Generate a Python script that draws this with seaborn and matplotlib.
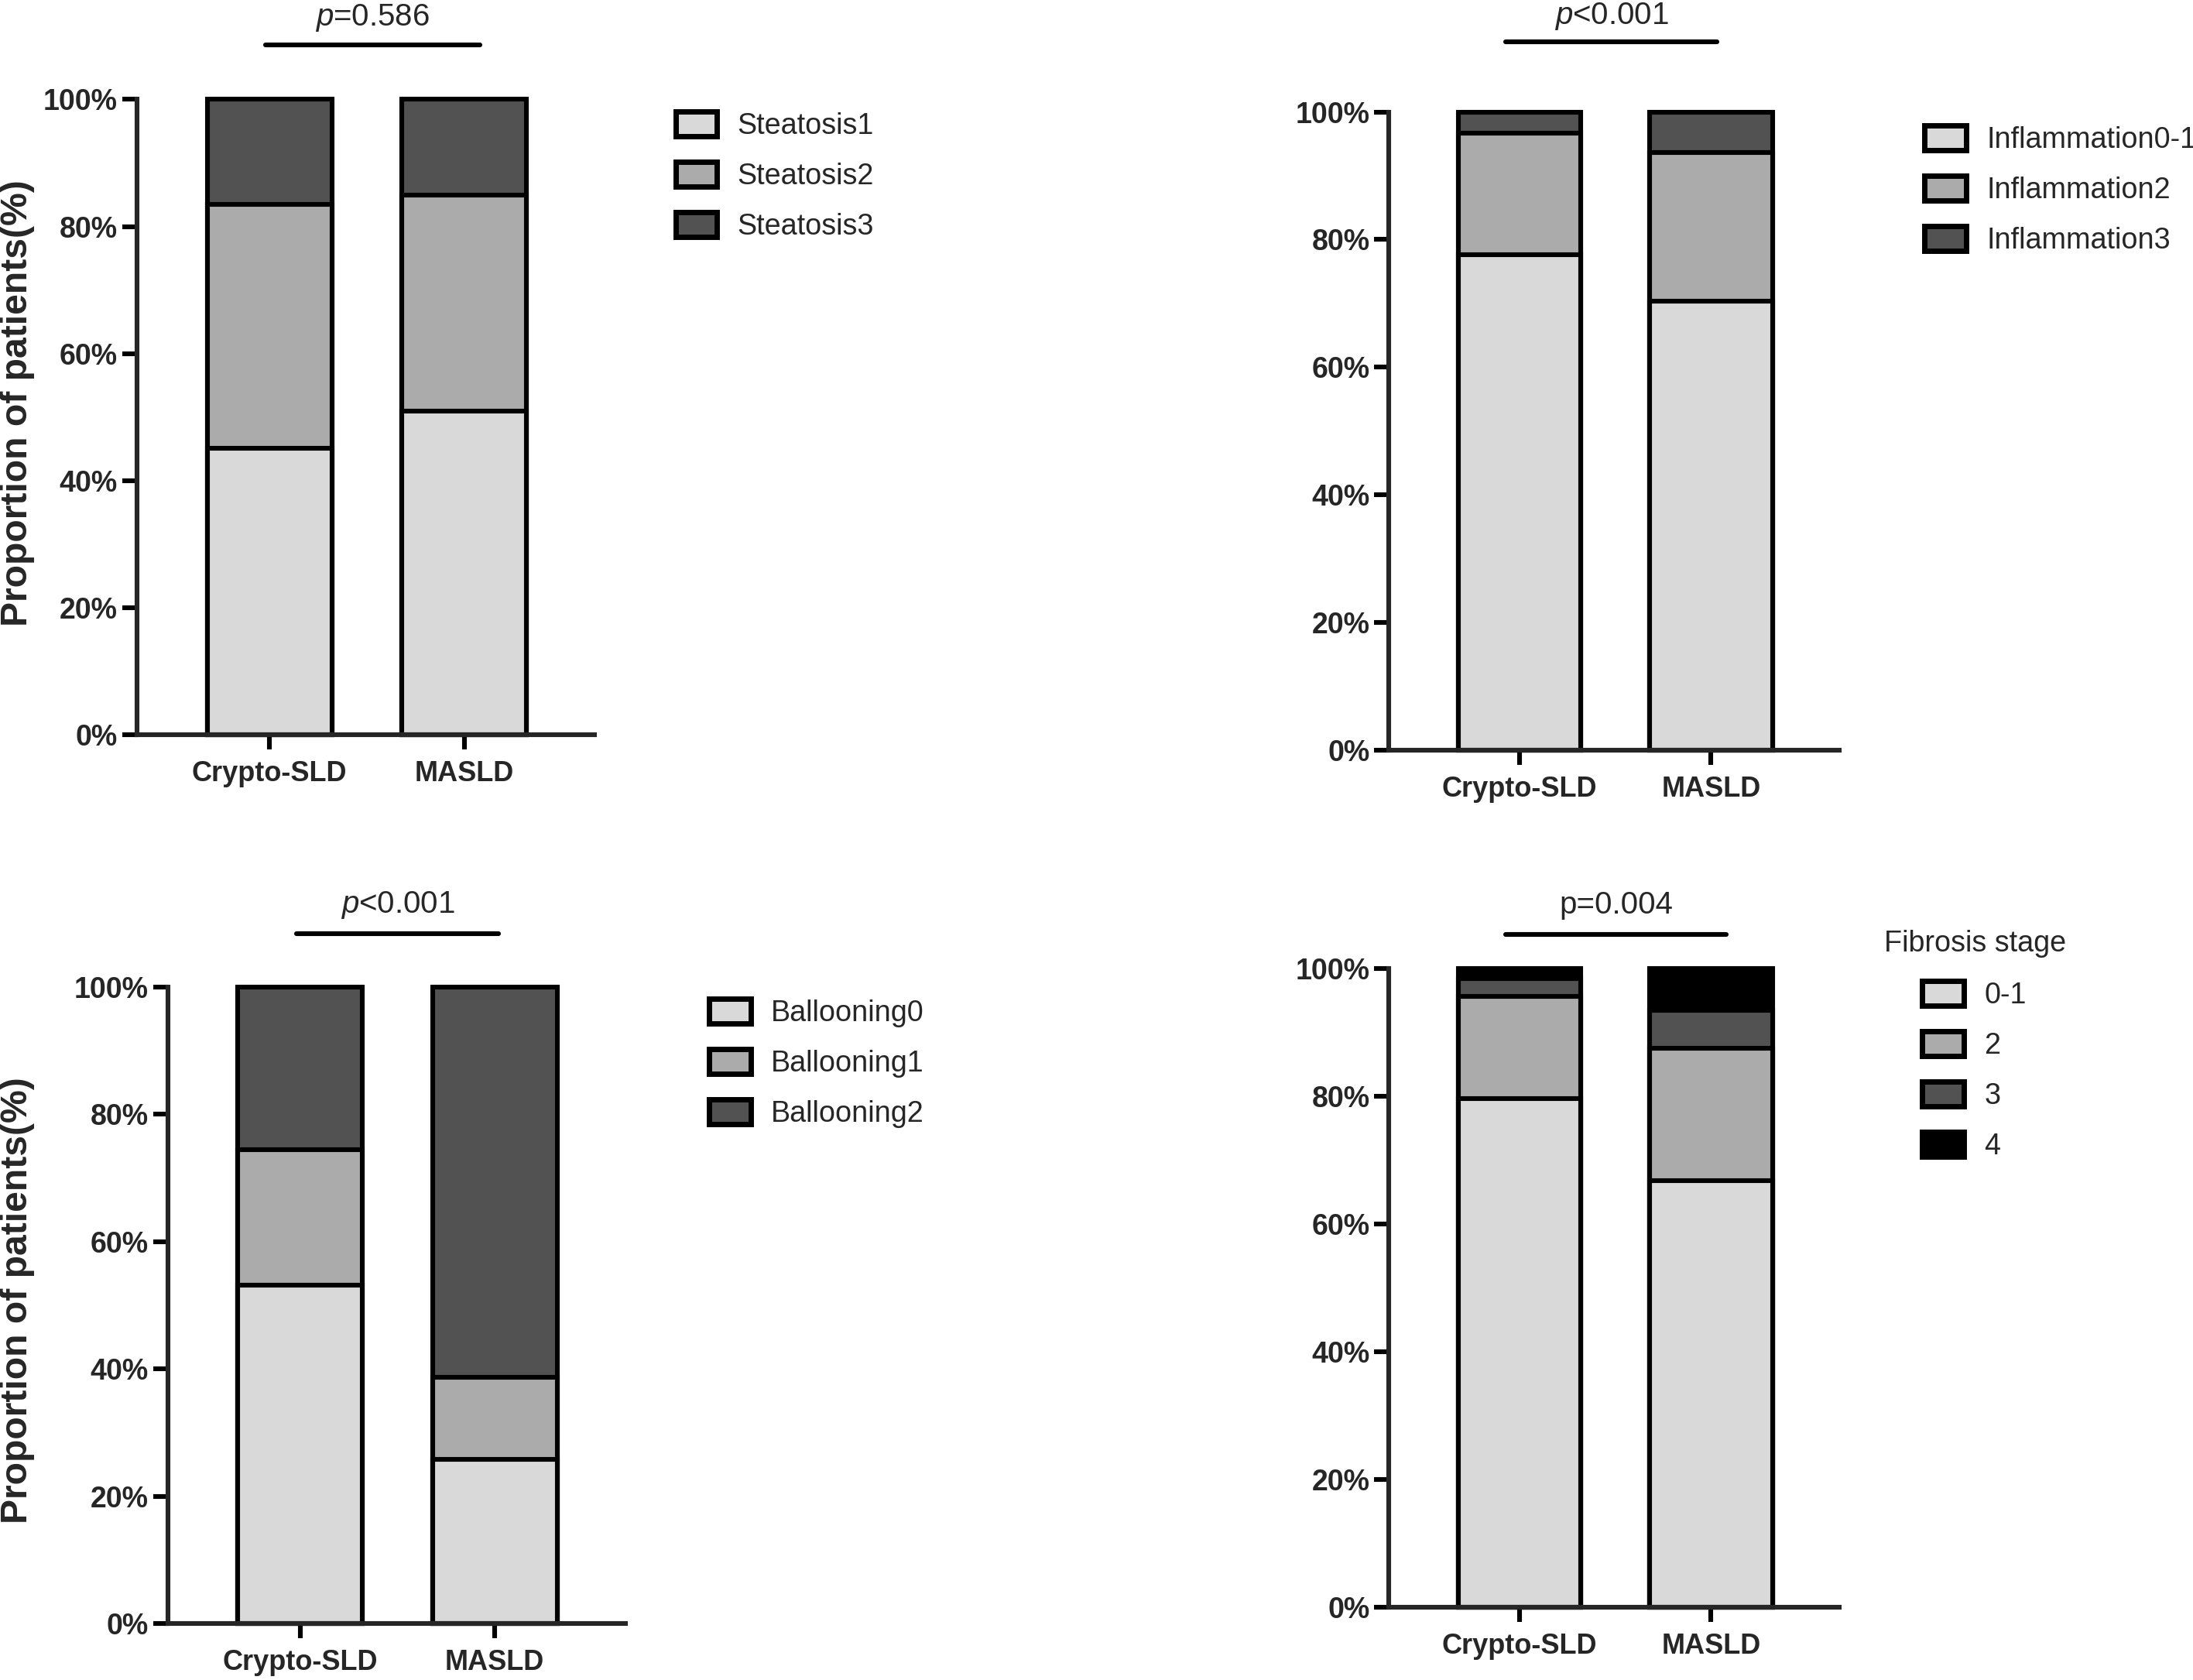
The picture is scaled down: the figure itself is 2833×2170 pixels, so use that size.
import matplotlib
matplotlib.use("Agg")
import matplotlib.pyplot as plt
from matplotlib.patches import Patch
import numpy as np
import seaborn as sns

# ---------------- data ----------------
groups = ["Crypto-SLD", "MASLD"]

steatosis_labels = ["Steatosis1", "Steatosis2", "Steatosis3"]
steatosis_crypto = [45.1, 38.4, 16.5]
steatosis_masld = [50.9, 34.1, 15.0]
steatosis_p = "=0.586"

inflam_labels = ["Inflammation0-1", "Inflammation2", "Inflammation3"]
inflam_crypto = [77.6, 19.1, 3.3]
inflam_masld = [70.4, 23.2, 6.4]
inflam_p = "<0.001"

balloon_labels = ["Ballooning0", "Ballooning1", "Ballooning2"]
balloon_crypto = [53.2, 21.2, 25.6]
balloon_masld = [25.8, 12.9, 61.3]
balloon_p = "<0.001"

fibrosis_labels = ["0-1", "2", "3", "4"]
fibrosis_crypto = [79.6, 16.0, 2.8, 1.6]
fibrosis_masld = [66.8, 20.7, 5.9, 6.6]
fibrosis_p = "p=0.004"
fibrosis_title = "Fibrosis stage"

ytick_vals = [0, 20, 40, 60, 80, 100]
ylabel_text = "Proportion of patients(%)"

colors3 = ["#d9d9d9", "#ababab", "#525252"]
colors4 = ["#d9d9d9", "#ababab", "#525252", "#000000"]

# ---------------- style ----------------
sns.set_style("ticks")
plt.rcParams["font.family"] = ["Liberation Sans", "DejaVu Sans"]
plt.rcParams["mathtext.fontset"] = "custom"
plt.rcParams["mathtext.rm"] = "Liberation Sans"
plt.rcParams["mathtext.it"] = "Liberation Sans:italic"

LW = 2.2
LEG_FS = 13.6
fig = plt.figure(figsize=(2833 / 200, 2170 / 200), dpi=200)


def stacked_panel(rect, crypto, masld, labels, colors):
    ax = fig.add_axes(rect)
    cum_c = np.cumsum(crypto)
    cum_m = np.cumsum(masld)
    for i in reversed(range(len(labels))):
        sns.barplot(x=groups, y=[cum_c[i], cum_m[i]], color=colors[i],
                    saturation=1, edgecolor="black", linewidth=LW,
                    width=0.64, errorbar=None, ax=ax)
    for p in ax.patches:
        p.set_clip_on(False)
    ax.set_xlim(-0.68, 1.67)
    ax.set_ylim(0, 100)
    ax.set_yticks(ytick_vals)
    ax.set_yticklabels([f"{v}%" for v in ytick_vals], fontsize=13.5,
                       fontweight="bold")
    ax.set_xticks([0, 1])
    ax.set_xticklabels(groups, fontsize=13, fontweight="bold")
    ax.set_xlabel("")
    ax.set_ylabel("")
    sns.despine(ax=ax)
    for s in ["left", "bottom"]:
        ax.spines[s].set_linewidth(LW)
    ax.tick_params(axis="both", length=7, width=LW, color="black")
    ax.tick_params(axis="y", pad=2)
    ax.tick_params(axis="x", pad=5)
    return ax


def sig_bar(ax, x0, x1, y_line, y_text, text):
    ax.plot([x0, x1], [y_line, y_line], color="black", lw=2.2,
            solid_capstyle="round", clip_on=False)
    ax.text((x0 + x1) / 2, y_text, text, ha="center", va="center",
            fontsize=14.5, clip_on=False)


def add_legend(ax, labels, colors, x, y):
    handles = [Patch(facecolor=c, edgecolor="black", linewidth=LW + 0.3)
               for c in colors]
    fig.legend(handles, labels, loc="upper left", bbox_to_anchor=(x, y),
               bbox_transform=fig.transFigure, frameon=False, fontsize=LEG_FS,
               handlelength=1.42, handleheight=0.92, handletextpad=0.70,
               labelspacing=0.74, borderpad=0, borderaxespad=0)


# Panel 1: steatosis
ax1 = stacked_panel([0.0625, 0.5627, 0.2086, 0.3781],
                    steatosis_crypto, steatosis_masld, steatosis_labels, colors3)
sig_bar(ax1, -0.02, 1.08, 108.6, 112.9, r"$\mathit{p}$" + steatosis_p)
ax1.set_ylabel(ylabel_text, fontsize=17.3, fontweight="bold")
ax1.yaxis.set_label_coords(-0.223, 0.5225)
add_legend(ax1, steatosis_labels, colors3, 0.308, 0.9336)

# Panel 2: inflammation
ax2 = stacked_panel([0.6334, 0.5534, 0.2054, 0.3800],
                    inflam_crypto, inflam_masld, inflam_labels, colors3)
sig_bar(ax2, -0.07, 1.03, 111.0, 115.0, r"$\mathit{p}$" + inflam_p)
add_legend(ax2, inflam_labels, colors3, 0.8776, 0.9253)

# Panel 3: ballooning
ax3 = stacked_panel([0.0765, 0.0336, 0.2086, 0.3790],
                    balloon_crypto, balloon_masld, balloon_labels, colors3)
sig_bar(ax3, -0.02, 1.02, 108.4, 112.8, r"$\mathit{p}$" + balloon_p)
ax3.set_ylabel(ylabel_text, fontsize=17.3, fontweight="bold")
ax3.yaxis.set_label_coords(-0.291, 0.507)
add_legend(ax3, balloon_labels, colors3, 0.3234, 0.4055)

# Panel 4: fibrosis
ax4 = stacked_panel([0.6334, 0.0435, 0.2054, 0.3800],
                    fibrosis_crypto, fibrosis_masld, fibrosis_labels, colors4)
sig_bar(ax4, -0.07, 1.08, 105.3, 110.0, fibrosis_p)
fig.text(0.859, 1 - 1219 / 2170, fibrosis_title, ha="left", va="center",
         fontsize=LEG_FS)
add_legend(ax4, fibrosis_labels, colors4, 0.8765, 0.4161)

fig.savefig("out.png", dpi=200)
